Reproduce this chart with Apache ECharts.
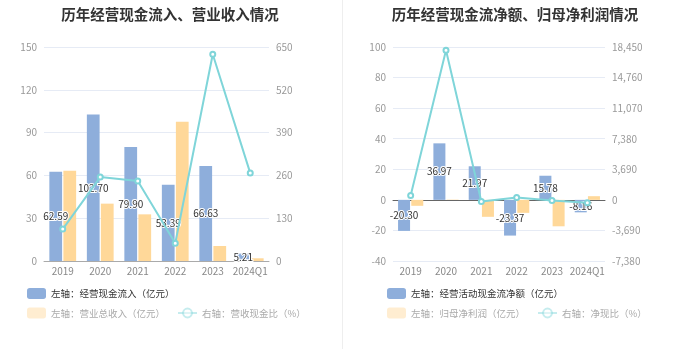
<!DOCTYPE html>
<html><head><meta charset="utf-8">
<script src="https://cdn.jsdelivr.net/npm/echarts@6/dist/echarts.min.js"></script>
<style>html,body{margin:0;padding:0;background:#fff}#c{width:680px;height:349px}</style>
</head><body><div id="c"></div>
<script>
var categories = ['2019', '2020', '2021', '2022', '2023', '2024Q1'];
// left chart
var cashInflow = [62.59, 102.70, 79.90, 53.39, 66.63, 5.21];
var revenue = [63.3, 40.2, 32.7, 97.6, 10.5, 1.9];
var cashRevenueRatio = [97, 255, 243, 54, 628, 267];
// right chart
var netOperatingCash = [-20.30, 36.97, 21.97, -23.37, 15.78, -8.16];
var netProfit = [-3.9, 0.2, -11.1, -8.5, -17.3, 2.4];
var netCashRatio = [520, 18050, -198, 275, -91, -340];

var leftTicks = {min: 0, max: 150, interval: 30};
var leftRightTicks = {min: 0, max: 650, interval: 130};
var rightTicks = {min: -40, max: 100, interval: 20};
var rightRightTicks = {min: -7380, max: 18450, interval: 3690};

var BLUE = '#8eaedb', ORANGE = '#ffd899', CYAN = '#7fd5d9';
var FONT = 'Noto Sans CJK SC';

var chart = echarts.init(document.getElementById('c'));

function yAx(grid, t, pos, split, fmt) {
  return {
    type: 'value', gridIndex: grid, position: pos, min: t.min, max: t.max, interval: t.interval,
    axisLine: {show: false}, axisTick: {show: false},
    axisLabel: {color: '#999', fontSize: 10, margin: 7, formatter: fmt},
    splitLine: {show: split, lineStyle: {color: '#e6ebf5', width: 1}}
  };
}
function thousands(v) { return v.toLocaleString('en-US'); }
var barLabel = {
  show: true, position: 'inside', color: '#333', fontSize: 10,
  textBorderColor: '#fff', textBorderWidth: 2,
  formatter: function (p) { return p.value.toFixed(2); }
};
var faded = {itemStyle: {opacity: 0.45}, lineStyle: {opacity: 0.45}, textStyle: {color: '#aaa'}};
function legend(left, top, names, fade) {
  return {
    left: left, top: top, orient: 'horizontal', itemWidth: 19, itemHeight: 11, itemGap: 12,
    textStyle: {fontSize: 9.5, color: '#333', fontFamily: FONT},
    data: names.map(function (n) {
      return fade ? Object.assign({name: n}, faded) : {name: n};
    })
  };
}

var option = {
  animation: false,
  textStyle: {fontFamily: FONT},
  title: [
    {text: '历年经营现金流入、营业收入情况', left: 165, textAlign: 'center', top: 2,
     textStyle: {fontSize: 14.5, fontWeight: 'bold', color: '#333', fontFamily: FONT}},
    {text: '历年经营现金流净额、归母净利润情况', left: 510, textAlign: 'center', top: 2,
     textStyle: {fontSize: 14.5, fontWeight: 'bold', color: '#333', fontFamily: FONT}}
  ],
  legend: [
    legend(22, 283, ['左轴：经营现金流入（亿元）'], false),
    legend(22, 302.5, ['左轴：营业总收入（亿元）', '右轴：营收现金比（%）'], true),
    legend(382, 283, ['左轴：经营活动现金流净额（亿元）'], false),
    legend(382, 302.5, ['左轴：归母净利润（亿元）', '右轴：净现比（%）'], true)
  ],
  grid: [
    {left: 44, right: 411, top: 47, bottom: 88},
    {left: 393, right: 75, top: 47, bottom: 88}
  ],
  xAxis: [
    {type: 'category', gridIndex: 0, data: categories,
     axisLine: {lineStyle: {color: '#aaa'}}, axisTick: {alignWithLabel: true, length: 4},
     axisLabel: {color: '#888', fontSize: 10, margin: 5, interval: 0}},
    {type: 'category', gridIndex: 1, data: categories,
     axisLine: {onZero: true, lineStyle: {color: '#666'}}, axisTick: {alignWithLabel: true, length: 4},
     axisLabel: {show: false}},
    {type: 'category', gridIndex: 1, data: categories, position: 'bottom',
     axisLine: {show: false, onZero: false}, axisTick: {show: false},
     axisLabel: {color: '#888', fontSize: 10, margin: 5, interval: 0}}
  ],
  yAxis: [
    yAx(0, leftTicks, 'left', true),
    yAx(0, leftRightTicks, 'right', false),
    yAx(1, rightTicks, 'left', true),
    yAx(1, rightRightTicks, 'right', false, thousands)
  ],
  series: [
    {name: '左轴：经营现金流入（亿元）', type: 'bar', xAxisIndex: 0, yAxisIndex: 0,
     data: cashInflow, barWidth: '34%', barGap: '10%', itemStyle: {color: BLUE}, label: barLabel, z: 2},
    {name: '左轴：营业总收入（亿元）', type: 'bar', xAxisIndex: 0, yAxisIndex: 0,
     data: revenue, barWidth: '34%', barGap: '10%', itemStyle: {color: ORANGE}},
    {name: '右轴：营收现金比（%）', type: 'line', xAxisIndex: 0, yAxisIndex: 1,
     data: cashRevenueRatio, symbol: 'emptyCircle', symbolSize: 5,
     itemStyle: {color: CYAN}, lineStyle: {color: CYAN, width: 2}, z: 3},
    {name: '左轴：经营活动现金流净额（亿元）', type: 'bar', xAxisIndex: 1, yAxisIndex: 2,
     data: netOperatingCash, barWidth: '34%', barGap: '10%', itemStyle: {color: BLUE}, label: barLabel, z: 2},
    {name: '左轴：归母净利润（亿元）', type: 'bar', xAxisIndex: 1, yAxisIndex: 2,
     data: netProfit, barWidth: '34%', barGap: '10%', itemStyle: {color: ORANGE}},
    {name: '右轴：净现比（%）', type: 'line', xAxisIndex: 1, yAxisIndex: 3,
     data: netCashRatio, symbol: 'emptyCircle', symbolSize: 5,
     itemStyle: {color: CYAN}, lineStyle: {color: CYAN, width: 2}, z: 3}
  ],
  graphic: [
    {type: 'line', shape: {x1: 342.5, y1: 0, x2: 342.5, y2: 349}, style: {stroke: '#eeeeee', lineWidth: 1}, silent: true}
  ]
};
chart.setOption(option);
</script>
</body></html>
